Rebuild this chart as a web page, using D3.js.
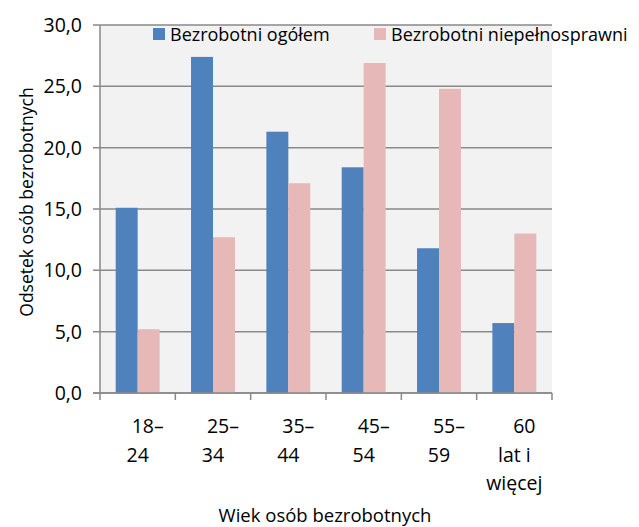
<!DOCTYPE html>
<html>
<head>
<meta charset="utf-8">
<script src="https://cdn.jsdelivr.net/npm/d3@7"></script>
<style>
body { margin: 0; background: #fff; }
text { font-family: 'Open Sans', 'Liberation Sans', Arial, sans-serif; fill: #000; }
</style>
</head>
<body>
<script>
var categories = ['18–24', '25–34', '35–44', '45–54', '55–59', '60 lat i więcej'];
var catLines = [['18–', '24'], ['25–', '34'], ['35–', '44'], ['45–', '54'], ['55–', '59'], ['60', 'lat i', 'więcej']];
var seriesNames = ['Bezrobotni ogółem', 'Bezrobotni niepełnosprawni'];
var ogolem = [15.1, 27.4, 21.3, 18.4, 11.8, 5.7];
var niepelnosprawni = [5.2, 12.7, 17.1, 26.9, 24.8, 13.0];
var yTicks = [0, 5, 10, 15, 20, 25, 30];
var colors = ['#4f81bd', '#e6b9b8'];

var width = 639, height = 527;
var plotL = 100, plotR = 552, plotT = 25, plotB = 393;

var svg = d3.select('body').append('svg')
    .attr('width', width)
    .attr('height', height);

var x = d3.scaleBand().domain(categories).range([plotL, plotR]).paddingInner(0).paddingOuter(0);
var y = d3.scaleLinear().domain([0, 30]).range([plotB, plotT]);

// plot background
svg.append('rect')
    .attr('x', plotL).attr('y', plotT)
    .attr('width', plotR - plotL).attr('height', plotB - plotT)
    .attr('fill', '#f2f2f2');

// gridlines + y ticks
svg.append('g').selectAll('line').data(yTicks).enter().append('line')
    .attr('x1', plotL - 7).attr('x2', plotR)
    .attr('y1', function(d) { return y(d); })
    .attr('y2', function(d) { return y(d); })
    .attr('stroke', '#898989')
    .attr('stroke-width', 1.5);

svg.append('g').selectAll('text').data(yTicks).enter().append('text')
    .attr('x', plotL - 18)
    .attr('y', function(d) { return y(d) + 7; })
    .attr('text-anchor', 'end')
    .style('font-size', '19.5px')
    .text(function(d) { return d.toFixed(1).replace('.', ','); });

// bars
var pad = 15.7, bw = (x.bandwidth() - 2 * pad) / 2;
var groups = svg.append('g').selectAll('g').data(categories).enter().append('g');
[ogolem, niepelnosprawni].forEach(function(vals, s) {
    groups.append('rect')
        .attr('x', function(d) { return x(d) + pad + s * bw; })
        .attr('y', function(d, i) { return y(vals[i]); })
        .attr('width', bw)
        .attr('height', function(d, i) { return y(0) - y(vals[i]); })
        .attr('fill', colors[s]);
});

// axes lines
svg.append('line')
    .attr('x1', plotL).attr('x2', plotL)
    .attr('y1', plotT).attr('y2', plotB)
    .attr('stroke', '#898989').attr('stroke-width', 1.5);
svg.append('line')
    .attr('x1', plotL - 7).attr('x2', plotR)
    .attr('y1', plotB).attr('y2', plotB)
    .attr('stroke', '#898989').attr('stroke-width', 1.5);
var xt = categories.map(function(c) { return x(c); }).concat([plotR]);
svg.append('g').selectAll('line').data(xt).enter().append('line')
    .attr('x1', function(d) { return d; }).attr('x2', function(d) { return d; })
    .attr('y1', plotB).attr('y2', plotB + 7)
    .attr('stroke', '#898989').attr('stroke-width', 1.5);

// x labels
var lab = svg.append('g').selectAll('text').data(categories).enter().append('text')
    .attr('text-anchor', 'middle')
    .style('font-size', '19.5px');
lab.each(function(c, i) {
    var t = d3.select(this);
    catLines[i].forEach(function(line, j) {
        t.append('tspan')
            .attr('x', x(c) + x.bandwidth() / 2 + (j === 0 ? 10 : 0))
            .attr('y', 433 + j * 28.5)
            .text(line);
    });
});

// axis titles
svg.append('text')
    .attr('x', (plotL + plotR) / 2 - 1)
    .attr('y', 522)
    .attr('text-anchor', 'middle')
    .style('font-size', '18.5px')
    .text('Wiek osób bezrobotnych');

svg.append('text')
    .attr('transform', 'translate(33,202) rotate(-90)')
    .attr('text-anchor', 'middle')
    .style('font-size', '17.5px')
    .text('Odsetek osób bezrobotnych');

// legend
var legX = [153, 374];
var leg = svg.append('g').selectAll('g').data(seriesNames).enter().append('g');
leg.append('rect')
    .attr('x', function(d, i) { return legX[i]; })
    .attr('y', 28)
    .attr('width', 12).attr('height', 12)
    .attr('fill', function(d, i) { return colors[i]; });
leg.append('text')
    .attr('x', function(d, i) { return legX[i] + 17; })
    .attr('y', 41)
    .style('font-size', '18px')
    .text(function(d) { return d; });
</script>
</body>
</html>
